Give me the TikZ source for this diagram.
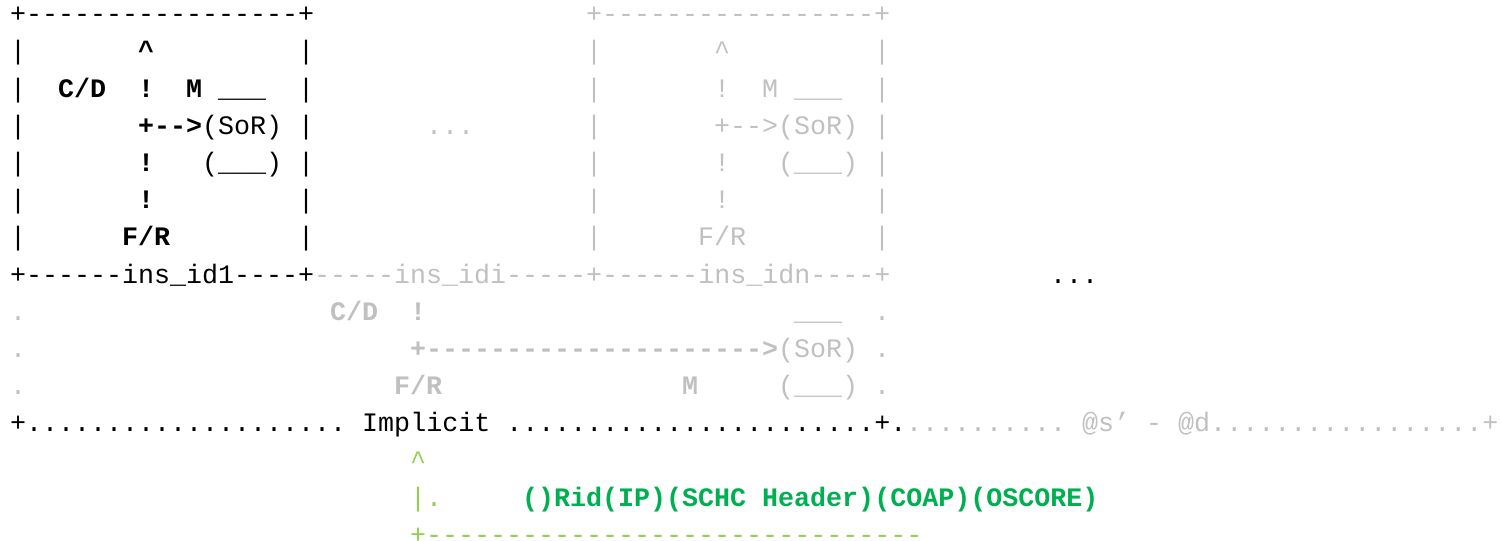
\documentclass[tikz,border=0pt]{standalone}
\usepackage{fontspec}
\setmonofont{Liberation Mono}
\definecolor{inactive}{HTML}{C0C0C0}
\definecolor{linkgreen}{HTML}{92D050}
\definecolor{fieldgreen}{HTML}{00B050}
\newcommand{\asciitext}{\ttfamily\fontsize{26.67pt}{37.2pt}\selectfont}
\tikzset{
  txt/.style={anchor=base west, inner sep=0pt, font=\asciitext},
  blk/.style={txt, text=black},
  blkb/.style={blk, font=\asciitext\bfseries},
  gry/.style={txt, text=inactive},
  gryb/.style={gry, font=\asciitext\bfseries},
  lgrn/.style={txt, text=linkgreen},
  grnb/.style={txt, text=fieldgreen, font=\asciitext\bfseries},
}
\begin{document}
\begin{tikzpicture}[x=16pt, y=-37.2pt]
  \useasboundingbox (-0.625,-0.6075) rectangle (93.25,13.909);
  % instance boxes
  \node[blk] (top1) at (0,0) {+-----------------+};
  \node[gry] (topn) at (36,0) {+-----------------+};
  \foreach \r in {1,...,6} {
    \node[blk] (lbar\r) at (0,\r) {|};
    \node[blk] (rbar\r) at (18,\r) {|};
    \node[gry] (lbarn\r) at (36,\r) {|};
    \node[gry] (rbarn\r) at (54,\r) {|};
  }
  % first instance
  \node[blkb] (up1) at (8,1) {\^{}};
  \node[blkb] (cd1) at (3,2) {C/D};
  \node[blkb] (ex1a) at (8,2) {!};
  \node[blkb] (m1) at (11,2) {M};
  \node[blk] (lid1) at (13,2) {\_\_\_};
  \node[blkb] (arr1) at (8,3) {+-->};
  \node[blk] (sor1) at (12,3) {(SoR)};
  \node[blkb] (ex1b) at (8,4) {!};
  \node[blk] (base1) at (12,4) {(\_\_\_)};
  \node[blkb] (ex1c) at (8,5) {!};
  \node[blkb] (fr1) at (7,6) {F/R};
  % middle
  \node[gry] (gap) at (26,3) {...};
  % last instance
  \node[gry] (upn) at (44,1) {\^{}};
  \node[gry] (exna) at (44,2) {!};
  \node[gry] (mn) at (47,2) {M};
  \node[gry] (lidn) at (49,2) {\_\_\_};
  \node[gry] (arrn) at (44,3) {+-->};
  \node[gry] (sorn) at (48,3) {(SoR)};
  \node[gry] (exnb) at (44,4) {!};
  \node[gry] (basen) at (48,4) {(\_\_\_)};
  \node[gry] (exnc) at (44,5) {!};
  \node[gry] (frn) at (43,6) {F/R};
  % instance ids
  \node[blk] (id1) at (0,7) {+------ins\_id1----+};
  \node[gry] (idn) at (19,7) {-----ins\_idi-----+------ins\_idn----+};
  \node[blk] (more) at (65,7) {...};
  % implicit part
  \node[gry] (dota) at (0,8) {.};
  \node[gryb] (cd2) at (20,8) {C/D};
  \node[gryb] (ex2) at (25,8) {!};
  \node[gry] (lid2) at (49,8) {\_\_\_};
  \node[gry] (dotb) at (54,8) {.};
  \node[gry] (dotc) at (0,9) {.};
  \node[gryb] (arr2) at (25,9) {+--------------------->};
  \node[gry] (sor2) at (48,9) {(SoR)};
  \node[gry] (dotd) at (54,9) {.};
  \node[gry] (dote) at (0,10) {.};
  \node[gryb] (fr2) at (24,10) {F/R};
  \node[gryb] (m2) at (42,10) {M};
  \node[gry] (base2) at (48,10) {(\_\_\_)};
  \node[gry] (dotf) at (54,10) {.};
  \node[blk] (impl) at (0,11) {+....................~Implicit~.......................+.};
  \node[gry] (addr) at (56,11) {..........~@s’~-~@d.................+};
  % rule id
  \node[lgrn] (rup) at (25,12) {\^{}};
  \node[lgrn] (rbar) at (25,13) {|.};
  \node[grnb] (fields) at (32,13) {()Rid(IP)(SCHC~Header)(COAP)(OSCORE)};
  \node[lgrn] (rbot) at (25,14) {+-------------------------------};
\end{tikzpicture}
\end{document}
